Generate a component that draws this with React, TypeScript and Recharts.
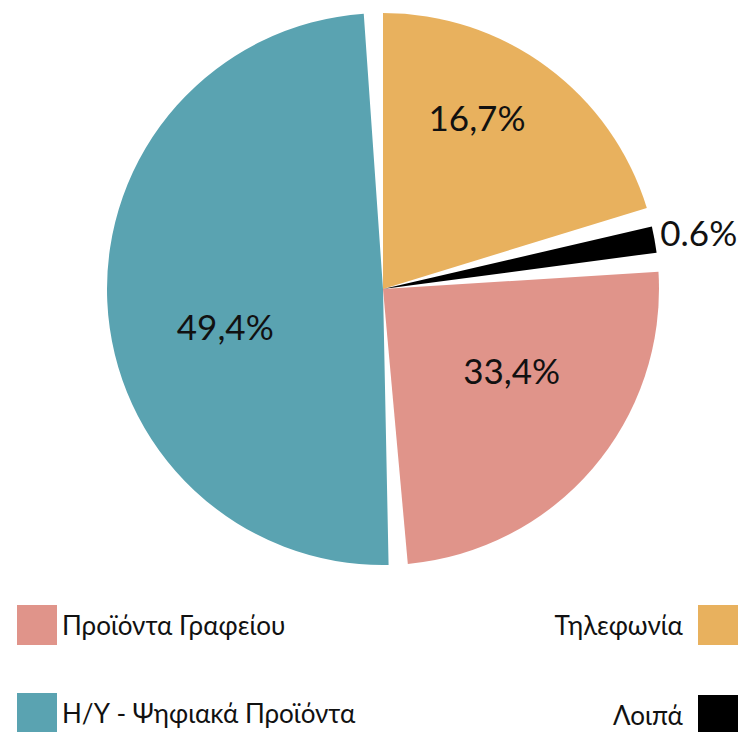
import { PieChart, Pie, Cell, Legend } from "recharts";

// slice order: clockwise from 12 o'clock
const categories = [
  "Τηλεφωνία",
  "Λοιπά",
  "Προϊόντα Γραφείου",
  "Η/Υ - Ψηφιακά Προϊόντα",
];
// arc sizes as drawn in the picture
const shares = [21.2, 1.6, 25.7, 51.5];
// label texts as printed on the slices
const labels = ["16,7%", "0.6%", "33,4%", "49,4%"];

const COLORS = ["#E8B15E", "#000000", "#E0948A", "#5AA3B1"];

// label placement per slice: radius and angle shift from the mid angle
const LABEL_LAYOUT = [
  { r: 196, shift: 7.8, anchor: "middle" },
  { r: 283, shift: 1.2, anchor: "start" },
  { r: 152, shift: 8.5, anchor: "middle" },
  { r: 162, shift: 10.6, anchor: "middle" },
];

const data = categories.map((name, i) => ({
  name,
  value: shares[i],
  label: labels[i],
}));

const RADIAN = Math.PI / 180;
const FONT = "Lato, 'Open Sans', sans-serif";

const renderLabel = ({ cx, cy, midAngle, index }: any) => {
  const l = LABEL_LAYOUT[index];
  const a = midAngle + l.shift;
  const x = cx + l.r * Math.cos(-a * RADIAN);
  const y = cy + l.r * Math.sin(-a * RADIAN);
  return (
    <text
      x={x}
      y={y}
      fill="#111"
      textAnchor={l.anchor as any}
      dominantBaseline="central"
      fontSize={35}
      fontFamily={FONT}
    >
      {labels[index]}
    </text>
  );
};

// legend: two columns, left column squares before text, right column after
const legendSlots = [
  { idx: 2, side: "left", top: 5 },
  { idx: 3, side: "left", top: 93 },
  { idx: 0, side: "right", top: 5 },
  { idx: 1, side: "right", top: 95 },
];

const renderLegend = () => (
  <div style={{ position: "relative", width: 744, height: 132 }}>
    {legendSlots.map((s) => {
      const sq = (
        <div
          style={{
            position: "absolute",
            top: s.top,
            left: s.side === "left" ? 17 : 698,
            width: 40,
            height: 40,
            background: COLORS[s.idx],
          }}
        />
      );
      const txt = (
        <div
          style={{
            position: "absolute",
            top: s.top,
            height: 40,
            lineHeight: "40px",
            fontFamily: FONT,
            fontSize: 26,
            color: "#111",
            whiteSpace: "nowrap",
            ...(s.side === "left" ? { left: 62 } : { right: 61 }),
          }}
        >
          {categories[s.idx]}
        </div>
      );
      return (
        <div key={s.idx}>
          {sq}
          {txt}
        </div>
      );
    })}
  </div>
);

export default function App() {
  return (
    <div style={{ position: "absolute", left: 0, top: 0, width: 744, height: 732, background: "#fff", overflow: "hidden" }}>
      <PieChart width={744} height={732} margin={{ top: 0, right: 0, bottom: 0, left: 0 }}>
        <Pie
          data={data}
          dataKey="value"
          nameKey="name"
          cx={383}
          cy={289}
          outerRadius={276}
          startAngle={90}
          endAngle={-270}
          paddingAngle={4}
          stroke="none"
          label={renderLabel}
          labelLine={false}
          isAnimationActive={false}
        >
          {data.map((entry, index) => (
            <Cell key={entry.name} fill={COLORS[index]} />
          ))}
        </Pie>
        <Legend
          content={renderLegend}
          wrapperStyle={{ position: "absolute", left: 0, top: 600, width: 744, height: 132 }}
        />
      </PieChart>
    </div>
  );
}
